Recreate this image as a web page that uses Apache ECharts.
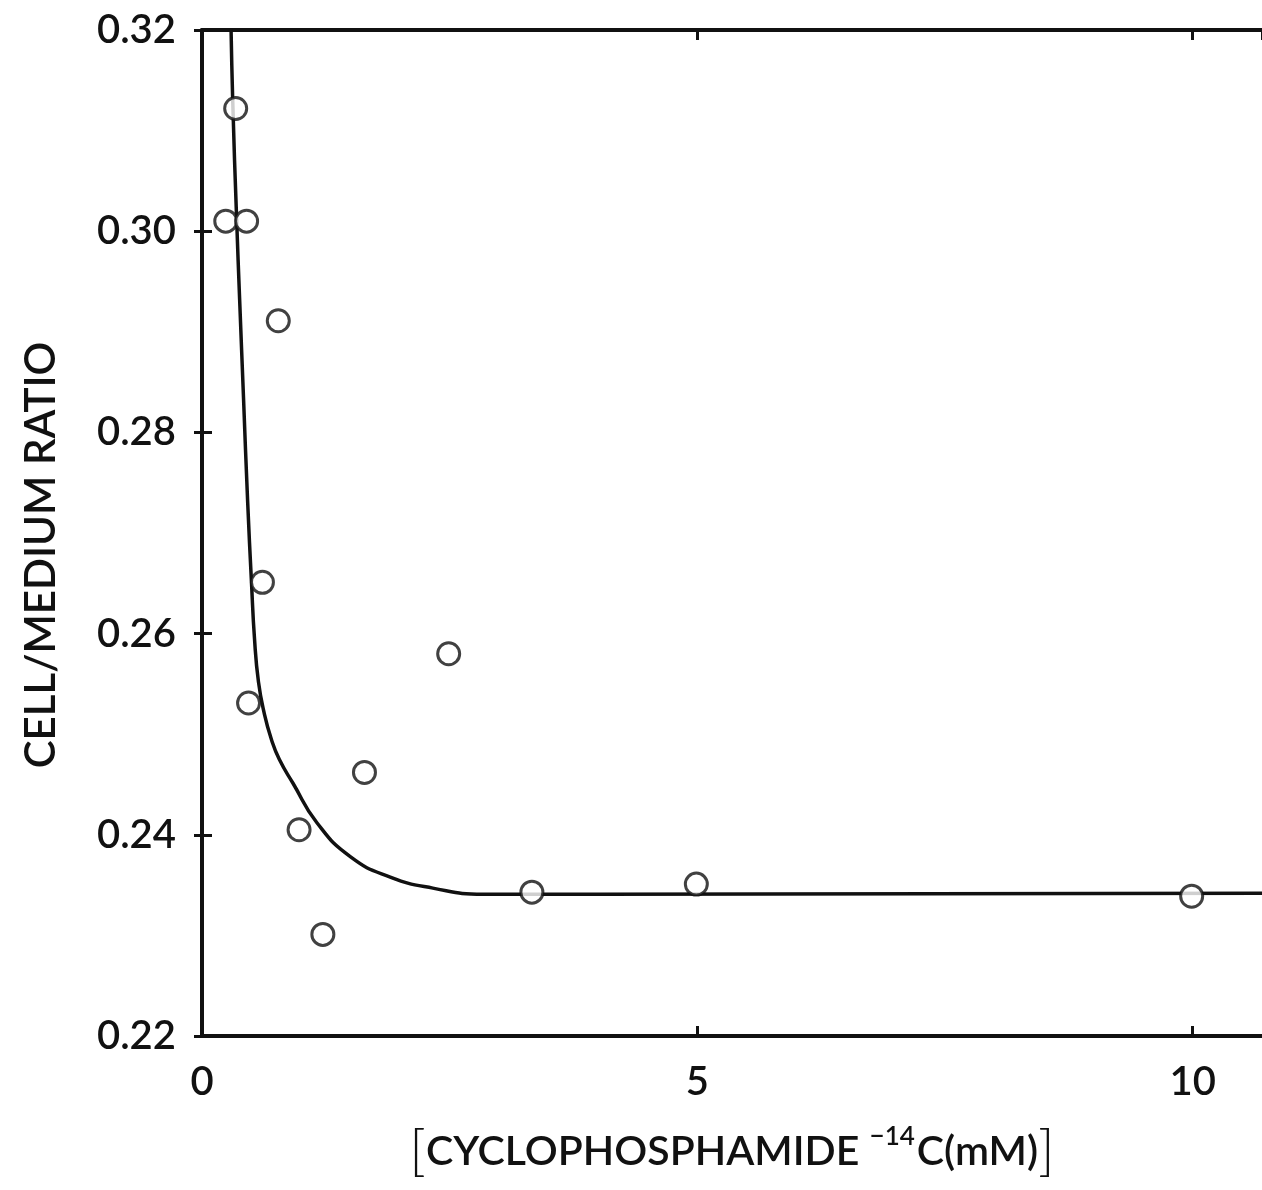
<!DOCTYPE html>
<html>
<head>
<meta charset="utf-8">
<script src="https://cdn.jsdelivr.net/npm/echarts@6/dist/echarts.min.js"></script>
<style>
  html, body { margin: 0; padding: 0; background: #fff; }
  #chart { width: 1262px; height: 1190px; }
</style>
</head>
<body>
<div id="chart"></div>
<script>
// measured points (concentration mM, cell/medium ratio)
var pointX = [0.24, 0.34, 0.45, 0.77, 0.61, 0.47, 2.49, 1.64, 0.98, 1.22, 3.33, 4.99, 9.99]
var pointY = [0.301, 0.3122, 0.301, 0.2911, 0.2651, 0.2531, 0.258, 0.2462, 0.2405, 0.2301, 0.2343, 0.2351, 0.2339]

// fitted curve
var curveX = [0.29, 0.31, 0.35, 0.38, 0.42, 0.46, 0.50, 0.53, 0.57, 0.63, 0.70, 0.78, 0.92, 1.16, 1.50, 1.90, 2.33, 2.84, 3.34, 4.02, 10.8]
var curveY = [0.322, 0.313, 0.3011, 0.2932, 0.2832, 0.2733, 0.2650, 0.2595, 0.2552, 0.2520, 0.2495, 0.2475, 0.2451, 0.2412, 0.2378, 0.2358, 0.2347, 0.2341, 0.2341, 0.2341, 0.2342]

var xTicks = [0, 5, 10]
var yTicks = ['0.22', '0.24', '0.26', '0.28', '0.30', '0.32']

var font = 'Lato'
var ink = '#111'

function pairs(xs, ys) {
  var out = []
  for (var i = 0; i < xs.length; i++) out.push([xs[i], ys[i]])
  return out
}

var myChart = echarts.init(document.getElementById('chart'))

var axisStyle = { color: ink, width: 4 }
var tickStyle = { color: ink, width: 3 }

/* 刻度朝内：用负长度 */
function inTick(len) {
  return { show: true, inside: false, length: -len, lineStyle: tickStyle }
}

var option = {
  backgroundColor: '#fff',
  animation: false,
  grid: { left: 202, top: 30, right: -4, bottom: 154 },
  xAxis: [
    {
      type: 'value',
      min: 0,
      max: 10.7,
      interval: 5,
      position: 'bottom',
      axisLine: { show: true, lineStyle: axisStyle },
      axisTick: inTick(10),
      splitLine: { show: false },
      axisLabel: {
        margin: 26,
        fontFamily: font,
        fontWeight: 600,
        fontSize: 40,
        color: ink,
        showMaxLabel: false,
        formatter: function (v) { return xTicks.indexOf(v) >= 0 ? String(v) : '' }
      },
      name: '{br|[}CYCLOPHOSPHAMIDE {sup|\u221214}C(mM){br|]}',
      nameLocation: 'middle',
      nameGap: 88,
      nameTextStyle: {
        fontFamily: font,
        fontWeight: 600,
        fontSize: 41,
        color: ink,
        rich: {
          br: { fontFamily: font, fontSize: 56, fontWeight: 300, color: ink },
          sup: { fontFamily: font, fontSize: 26, fontWeight: 600, color: ink, verticalAlign: 'top', padding: [0, 2, 16, 0] }
        }
      }
    },
    {
      type: 'value',
      min: 0,
      max: 10.7,
      interval: 5,
      position: 'top',
      axisLine: { show: true, lineStyle: axisStyle },
      axisTick: inTick(10),
      axisLabel: { show: false },
      splitLine: { show: false }
    }
  ],
  yAxis: [
    {
      type: 'value',
      min: 0.22,
      max: 0.32,
      interval: 0.02,
      position: 'left',
      axisLine: { show: true, lineStyle: axisStyle },
      axisTick: inTick(10),
      splitLine: { show: false },
      axisLabel: {
        margin: 26,
        fontFamily: font,
        fontWeight: 600,
        fontSize: 40,
        color: ink,
        formatter: function (v) {
          var i = Math.round((v - 0.22) / 0.02)
          return yTicks[i] || ''
        }
      },
      name: 'CELL/MEDIUM RATIO',
      nameLocation: 'middle',
      nameGap: 140,
      nameTextStyle: { fontFamily: font, fontWeight: 600, fontSize: 42, color: ink, padding: [0, 44, 0, 0] }
    },
    {
      type: 'value',
      min: 0.22,
      max: 0.32,
      interval: 0.02,
      position: 'right',
      axisLine: { show: false },
      axisTick: inTick(8),
      axisLabel: { show: false },
      splitLine: { show: false }
    }
  ],
  series: [
    {
      type: 'line',
      data: pairs(curveX, curveY),
      smooth: 0.5,
      showSymbol: false,
      clip: true,
      lineStyle: { color: ink, width: 3.5 },
      z: 2
    },
    {
      type: 'scatter',
      data: pairs(pointX, pointY),
      symbol: 'circle',
      symbolSize: 22,
      itemStyle: { color: '#fff', borderColor: ink, borderWidth: 3 },
      z: 3
    }
  ]
}

myChart.setOption(option, true)
</script>
</body>
</html>
